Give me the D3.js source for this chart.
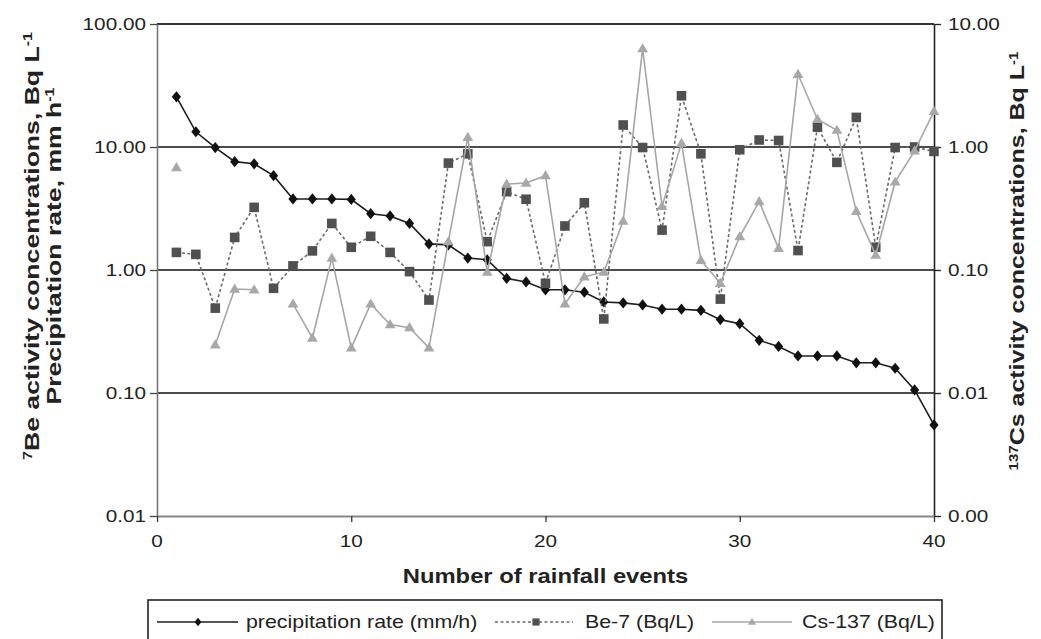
<!DOCTYPE html>
<html>
<head>
<meta charset="utf-8">
<script src="https://cdn.jsdelivr.net/npm/d3@7"></script>
<style>
  html, body { margin: 0; padding: 0; background: #fff; }
  svg { display: block; font-family: "Liberation Sans", Arial, sans-serif; }
</style>
</head>
<body>
<svg id="chart" width="1041" height="639"></svg>
<script>
// Rainfall events, ordered by decreasing precipitation rate
const events = d3.range(1, 41);

// Precipitation rate (mm/h)
const precipitation = [25.6, 13.3, 9.9, 7.6, 7.3, 5.85, 3.78, 3.78, 3.78, 3.75,
  2.87, 2.75, 2.39, 1.63, 1.60, 1.25, 1.21, 0.855, 0.80, 0.69,
  0.69, 0.66, 0.55, 0.54, 0.52, 0.48, 0.48, 0.47, 0.395, 0.366,
  0.268, 0.239, 0.20, 0.20, 0.20, 0.176, 0.176, 0.159, 0.106, 0.055];

// Be-7 activity concentration (Bq/L)
const be7 = [1.39, 1.34, 0.49, 1.84, 3.23, 0.71, 1.08, 1.43, 2.39, 1.53,
  1.88, 1.39, 0.97, 0.57, 7.4, 8.8, 1.70, 4.33, 3.76, 0.78,
  2.28, 3.52, 0.40, 15.1, 9.9, 2.11, 26.1, 8.8, 0.58, 9.5,
  11.4, 11.3, 1.44, 14.5, 7.5, 17.4, 1.53, 9.9, 10.0, 9.2];

// Cs-137 activity concentration (Bq/L); null = not measured
const cs137 = [0.68, null, 0.0247, 0.070, 0.069, null, 0.053, 0.028, 0.125, 0.0233,
  0.053, 0.036, 0.034, 0.0233, 0.17, 1.2, 0.096, 0.50, 0.51, 0.585,
  0.053, 0.088, 0.096, 0.25, 6.3, 0.33, 1.07, 0.12, 0.078, 0.187,
  0.36, 0.15, 3.9, 1.68, 1.37, 0.30, 0.132, 0.52, 0.93, 1.95];

const xTicks = [0, 10, 20, 30, 40];
const leftTicks = [0.01, 0.1, 1, 10, 100];
const leftTickLabels = ["0.01", "0.10", "1.00", "10.00", "100.00"];
const rightTicks = [0.001, 0.01, 0.1, 1, 10];
const rightTickLabels = ["0.00", "0.01", "0.10", "1.00", "10.00"];

const legendLabels = ["precipitation rate (mm/h)", "Be-7 (Bq/L)", "Cs-137 (Bq/L)"];

const svg = d3.select("#chart");
const SX = 1.22; // horizontal text widening

const x = d3.scaleLinear().domain([0, 40]).range([157, 934]);
const yL = d3.scaleLog().domain([0.01, 100]).range([516, 24]);
const yR = d3.scaleLog().domain([0.001, 10]).range([516, 24]);

function label(g, tx, ty, txt, opts = {}) {
  const t = g.append("text")
    .attr("transform", `translate(${tx},${ty}) rotate(${opts.rotate || 0}) scale(${opts.sx || SX},1)`)
    .attr("text-anchor", opts.anchor || "middle")
    .attr("font-size", opts.size || 17)
    .attr("font-weight", opts.weight || "normal")
    .attr("fill", "#222");
  if (typeof txt === "string") t.text(txt);
  else txt(t);
  return t;
}

// Horizontal gridlines
const gridG = svg.append("g");
gridG.selectAll("line.grid").data([0.1, 1, 10]).join("line")
  .attr("x1", x(0)).attr("x2", x(40))
  .attr("y1", d => yL(d)).attr("y2", d => yL(d))
  .attr("stroke", "#111").attr("stroke-width", 1.6);
gridG.append("line").attr("x1", x(0)).attr("x2", x(40))
  .attr("y1", yL(100)).attr("y2", yL(100))
  .attr("stroke", "#333").attr("stroke-width", 2);

// Left axis
const axL = svg.append("g").attr("transform", `translate(${x(0)},0)`)
  .call(d3.axisLeft(yL).tickValues(leftTicks).tickFormat((d, i) => leftTickLabels[i]).tickSize(7).tickSizeOuter(0));
axL.select(".domain").attr("stroke", "#777").attr("stroke-width", 1.6);
axL.selectAll(".tick line").attr("stroke", "#444").attr("stroke-width", 1.3);
axL.selectAll(".tick text").remove();
leftTicks.forEach((v, i) => label(svg, 146, yL(v) + 6, leftTickLabels[i], { anchor: "end" }));

// Right axis
const axR = svg.append("g").attr("transform", `translate(${x(40)},0)`)
  .call(d3.axisRight(yR).tickValues(rightTicks).tickSize(7).tickSizeOuter(0));
axR.select(".domain").attr("stroke", "#222").attr("stroke-width", 1.6);
axR.selectAll(".tick line").attr("stroke", "#222").attr("stroke-width", 1.3);
axR.selectAll(".tick text").remove();
rightTicks.forEach((v, i) => label(svg, 948, yR(v) + 6, rightTickLabels[i], { anchor: "start" }));

// Bottom axis
const axB = svg.append("g").attr("transform", `translate(0,${yL(0.01)})`)
  .call(d3.axisBottom(x).tickValues(xTicks).tickSize(6).tickSizeOuter(0));
axB.select(".domain").attr("stroke", "#888").attr("stroke-width", 2);
axB.selectAll(".tick line").attr("stroke", "#333").attr("stroke-width", 1.3);
axB.selectAll(".tick text").remove();
xTicks.forEach(v => label(svg, x(v), 547, String(v)));

// Axis titles
label(svg, x(20), 583, "Number of rainfall events", { size: 19.5, weight: "bold" });

const titleOpts = { rotate: -90, size: 20, weight: "bold", sx: 1.33 };
label(svg, 39, 246, t => {
  t.append("tspan").attr("baseline-shift", "super").attr("font-size", 12).text("7");
  t.append("tspan").text("Be activity concentrations, Bq L");
  t.append("tspan").attr("baseline-shift", "super").attr("font-size", 12).text("-1");
}, titleOpts);
label(svg, 61, 246, t => {
  t.append("tspan").text("Precipitation rate, mm h");
  t.append("tspan").attr("baseline-shift", "super").attr("font-size", 12).text("-1");
}, titleOpts);
label(svg, 1024, 261, t => {
  t.append("tspan").attr("baseline-shift", "super").attr("font-size", 12).text("137");
  t.append("tspan").text("Cs activity concentrations, Bq L");
  t.append("tspan").attr("baseline-shift", "super").attr("font-size", 12).text("-1");
}, Object.assign({}, titleOpts, { sx: 1.25 }));

// Marker shapes
const diamond = { draw(ctx, s) { const w = 4.6, h = 5.6;
  ctx.moveTo(0, -h); ctx.lineTo(w, 0); ctx.lineTo(0, h); ctx.lineTo(-w, 0); ctx.closePath(); } };
const square = { draw(ctx, s) { const r = 4.8; ctx.rect(-r, -r, 2 * r, 2 * r); } };
const triangle = { draw(ctx, s) { const w = 5.4, h = 9.2;
  ctx.moveTo(0, -h * 0.6); ctx.lineTo(w, h * 0.4); ctx.lineTo(-w, h * 0.4); ctx.closePath(); } };

const series = [
  { name: legendLabels[0], values: precipitation, y: yL, stroke: "#1e1e1e", dash: null, width: 1.6, fill: "#111", shape: diamond },
  { name: legendLabels[1], values: be7, y: yL, stroke: "#6a6a6a", dash: "3,2.5", width: 1.6, fill: "#505050", shape: square },
  { name: legendLabels[2], values: cs137, y: yR, stroke: "#a6a6a6", dash: null, width: 1.6, fill: "#a8a8a8", shape: triangle }
];

const plotG = svg.append("g");
series.forEach(s => {
  const pts = events.map((e, i) => ({ e, v: s.values[i] }));
  const line = d3.line().defined(d => d.v != null).x(d => x(d.e)).y(d => s.y(d.v));
  plotG.append("path").datum(pts).attr("d", line)
    .attr("fill", "none").attr("stroke", s.stroke).attr("stroke-width", s.width)
    .attr("stroke-dasharray", s.dash);
  plotG.selectAll(null).data(pts.filter(d => d.v != null)).join("path")
    .attr("transform", d => `translate(${x(d.e)},${s.y(d.v)})`)
    .attr("d", d3.symbol().type(s.shape))
    .attr("fill", s.fill);
});

// Legend
const lg = svg.append("g");
lg.append("rect").attr("x", 148).attr("y", 600).attr("width", 794).attr("height", 60)
  .attr("fill", "#fff").attr("stroke", "#222").attr("stroke-width", 1.6);
const legendPos = [
  { x1: 157, x2: 238, m: 198, tx: 246 },
  { x1: 495, x2: 573, m: 536, tx: 585 },
  { x1: 712, x2: 792, m: 752, tx: 802 }
];
series.forEach((s, i) => {
  const p = legendPos[i];
  const ly = 622;
  lg.append("line").attr("x1", p.x1).attr("x2", p.x2).attr("y1", ly).attr("y2", ly)
    .attr("stroke", s.stroke).attr("stroke-width", s.width).attr("stroke-dasharray", s.dash);
  lg.append("path").attr("transform", `translate(${p.m},${ly}) scale(0.75)`)
    .attr("d", d3.symbol().type(s.shape)).attr("fill", s.fill);
  label(lg, p.tx, ly + 6, s.name, { anchor: "start", size: 17.5 });
});
</script>
</body>
</html>
